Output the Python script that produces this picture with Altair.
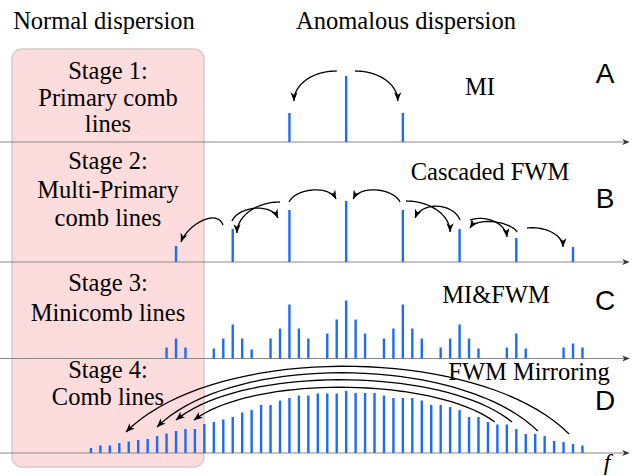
import math

import altair as alt
import numpy as np
import pandas as pd

W, H = 632, 476
BLUE = "#1d6cf2"
SERIF = "Liberation Serif, Times New Roman, serif"
SANS = "Liberation Sans, Arial, sans-serif"

# Frequency axis in units of the minicomb spacing; primary lines sit every 6 units.
K_MIN, K_MAX = -18.62, 48.24
PX_PER_K = W / (K_MAX - K_MIN)

# Vertical position of each stage's frequency axis (y scale runs top -> bottom).
stage_ids = ["A", "B", "C", "D"]
stage_base = [142, 262, 358.5, 453]

# Stage A: pump and first MI sidebands
a_k = [12, 18, 24]
a_amp = [29, 66, 29]

# Stage B: multi-primary comb lines from cascaded FWM
b_k = [0, 6, 12, 18, 24, 30, 36, 42]
b_amp = [16, 33, 52, 61, 52, 33, 24, 15]

# Stage C: minicombs around each primary line
c_k = [-1, 0, 1,
       4, 5, 6, 7, 8,
       10, 11, 12, 13, 14,
       16, 17, 18, 19, 20,
       22, 23, 24, 25, 26,
       28, 29, 30, 31, 32,
       35, 36, 37,
       41, 42, 43]
c_amp = [11, 20, 11,
         10, 20, 34, 20, 9,
         20, 30, 54, 30, 20,
         25, 39, 58, 39, 25,
         20, 30, 54, 30, 20,
         11, 20, 34, 20, 10,
         11, 25, 10,
         11, 15, 11]

# Stage D: fully merged comb
d_k = list(range(-9, 44))
d_amp = [5, 7.5, 7.5, 10, 11.5, 13, 14, 17, 19.5, 22,
         24, 24, 29, 31, 33.5, 36, 40.5, 43, 48, 48,
         52.5, 55, 57.5, 57.5, 59.5, 59.5, 59.5, 62, 60, 60,
         60, 57.5, 55, 55, 55, 52.5, 48, 48, 46, 43,
         36, 36, 31, 28.5, 28.5, 24, 19, 19, 17, 12,
         11, 9, 7.5]

# Curved arrows: start (k, y), end (k, y), control offsets a0, h0, a1, h1
arrows = [
    # MI
    (17.0, 71, 12.48, 101, 0.55, 0, 0.0, 17),
    (18.94, 71, 23.46, 101, 0.55, 0, 0.0, 17),
    # cascaded FWM
    (4.97, 225, 0.53, 242, 0.15, 17, 0.15, 17),
    (5.92, 221, 10.79, 218, 0.15, 15, 0.15, 15),
    (11.0, 202, 6.45, 233, 0.55, 0, 0.0, 17),
    (11.96, 202, 16.93, 199, 0.15, 14, 0.15, 14),
    (23.7, 202, 18.73, 199, 0.15, 14, 0.15, 14),
    (24.33, 201, 28.99, 232, 0.55, 0, 0.0, 17),
    (30.05, 220, 25.29, 218, 0.15, 17, 0.15, 17),
    (31.1, 220, 35.02, 237, 0.4, 5, 0.05, 15),
    (36.08, 232, 31.1, 228, 0.15, 11, 0.15, 11),
    (37.14, 228, 40.94, 247, 0.5, 2, 0.0, 12),
    # FWM mirroring
    (41.58, 434, -5.29, 432, 0.2, 89, 0.2, 89),
    (38.27, 431, -2.01, 427, 0.2, 75, 0.2, 75),
    (35.55, 422, 0.0, 420, 0.2, 55, 0.2, 55),
    (33.72, 422, 1.9, 420, 0.2, 45, 0.2, 45),
]

ARROW_SHAPE = "M1,0L-1,-0.8L-0.45,0L-1,0.8Z"

# ---- comb line table
rows = []
for sid, base in zip(stage_ids, stage_base):
    ks, amps = {"A": (a_k, a_amp), "B": (b_k, b_amp),
                "C": (c_k, c_amp), "D": (d_k, d_amp)}[sid]
    for k, amp in zip(ks, amps):
        rows.append({"stage": sid, "k": k, "top": base - amp, "base": base})
lines_df = pd.DataFrame(rows)

# ---- arrow paths (cubic Bezier) and arrowheads
path_rows, head_rows = [], []
for i, (k0, y0, k1, y1, a0, h0, a1, h1) in enumerate(arrows):
    x0, x1 = k0 * PX_PER_K, k1 * PX_PER_K
    dx = x1 - x0
    p0 = np.array([x0, y0])
    p3 = np.array([x1, y1])
    c1 = np.array([x0 + a0 * dx, y0 - h0])
    c2 = np.array([x1 - a1 * dx, y1 - h1])
    t = np.linspace(0, 1, 40)[:, None]
    pts = (1 - t) ** 3 * p0 + 3 * (1 - t) ** 2 * t * c1 + 3 * (1 - t) * t ** 2 * c2 + t ** 3 * p3
    tang = p3 - c2
    norm = math.hypot(*tang)
    ux, uy = tang / norm
    ang = math.degrees(math.atan2(uy, ux)) % 360
    for j, (px, py) in enumerate(pts):
        path_rows.append({"id": i, "o": j, "k": px / PX_PER_K, "y": py})
    hx, hy = x1 - 4.2 * ux, y1 - 4.2 * uy
    head_rows.append({"k": hx / PX_PER_K, "y": hy, "ang": ang})
paths_df = pd.DataFrame(path_rows)
heads_df = pd.DataFrame(head_rows)

xs = alt.Scale(domain=[K_MIN, K_MAX], nice=False, zero=False)
ys = alt.Scale(domain=[0, H], reverse=True, nice=False, zero=False)

# ---- normal-dispersion panel
box = alt.Chart(pd.DataFrame({"a": [0]})).mark_rect(
    cornerRadius=10, fill="#fcdcdc", stroke="#d8cccc", strokeWidth=1.5
).encode(x=alt.value(12), x2=alt.value(204), y=alt.value(49), y2=alt.value(467))

# ---- frequency axes
axes_df = pd.DataFrame({"base": stage_base})
axis_lines = alt.Chart(axes_df).mark_rule(color="#8a8a8a", strokeWidth=1.2).encode(
    x=alt.value(0), x2=alt.value(624),
    y=alt.Y("base:Q", scale=ys, axis=None),
)
axis_heads = alt.Chart(axes_df).mark_point(
    shape=ARROW_SHAPE, filled=True, color="#333333", size=55, opacity=1
).encode(x=alt.value(626), y=alt.Y("base:Q", scale=ys, axis=None))

# ---- comb lines
comb = alt.Chart(lines_df).mark_rule(color=BLUE, strokeWidth=2.4).encode(
    x=alt.X("k:Q", scale=xs, axis=None),
    y=alt.Y("top:Q", scale=ys, axis=None),
    y2="base:Q",
)

# ---- arrows
arrow_paths = alt.Chart(paths_df).mark_line(color="black", strokeWidth=1.3).encode(
    x=alt.X("k:Q", scale=xs, axis=None),
    y=alt.Y("y:Q", scale=ys, axis=None),
    detail="id:N",
    order="o:Q",
)
arrow_heads = alt.Chart(heads_df).mark_point(
    shape=ARROW_SHAPE, filled=True, color="black", size=80, opacity=1
).encode(
    x=alt.X("k:Q", scale=xs, axis=None),
    y=alt.Y("y:Q", scale=ys, axis=None),
    angle=alt.Angle("ang:Q", scale=None),
)

# ---- text
serif_text = pd.DataFrame([
    ("Normal dispersion", 104, 29),
    ("Anomalous dispersion", 406, 29),
    ("Stage 1:", 108, 79), ("Primary comb", 108, 106), ("lines", 108, 132),
    ("Stage 2:", 108, 169), ("Multi-Primary", 108, 198), ("comb lines", 108, 226),
    ("Stage 3:", 108, 291), ("Minicomb lines", 108, 321),
    ("Stage 4:", 108, 378), ("Comb lines", 108, 405),
    ("MI", 480, 95),
    ("Cascaded FWM", 490, 180),
    ("MI&FWM", 496, 303),
    ("FWM Mirroring", 529, 380),
], columns=["label", "px", "py"])
serif = alt.Chart(serif_text).mark_text(
    font=SERIF, fontSize=24.5, color="black", align="center", baseline="alphabetic"
).encode(
    x=alt.X("px:Q", scale=None), y=alt.Y("py:Q", scale=None), text="label:N"
)

letters_df = pd.DataFrame({"label": stage_ids, "px": [605] * 4, "py": [83, 208, 310, 410]})
letters = alt.Chart(letters_df).mark_text(
    font=SANS, fontSize=28, color="black", align="center", baseline="alphabetic"
).encode(
    x=alt.X("px:Q", scale=None), y=alt.Y("py:Q", scale=None), text="label:N"
)

freq_label = alt.Chart(pd.DataFrame({"label": ["f"], "px": [607], "py": [470]})).mark_text(
    font=SERIF, fontSize=24, fontStyle="italic", color="black",
    align="center", baseline="alphabetic"
).encode(
    x=alt.X("px:Q", scale=None), y=alt.Y("py:Q", scale=None), text="label:N"
)

chart = alt.layer(
    box, axis_lines, axis_heads, comb, arrow_paths, arrow_heads, serif, letters, freq_label
).resolve_scale(x="shared", y="shared").properties(
    width=W, height=H, padding=0, autosize=alt.AutoSizeParams(type="none"),
    background="white",
).configure_view(stroke=None)

chart.save("out.html", embed_options={"renderer": "svg", "actions": False})
